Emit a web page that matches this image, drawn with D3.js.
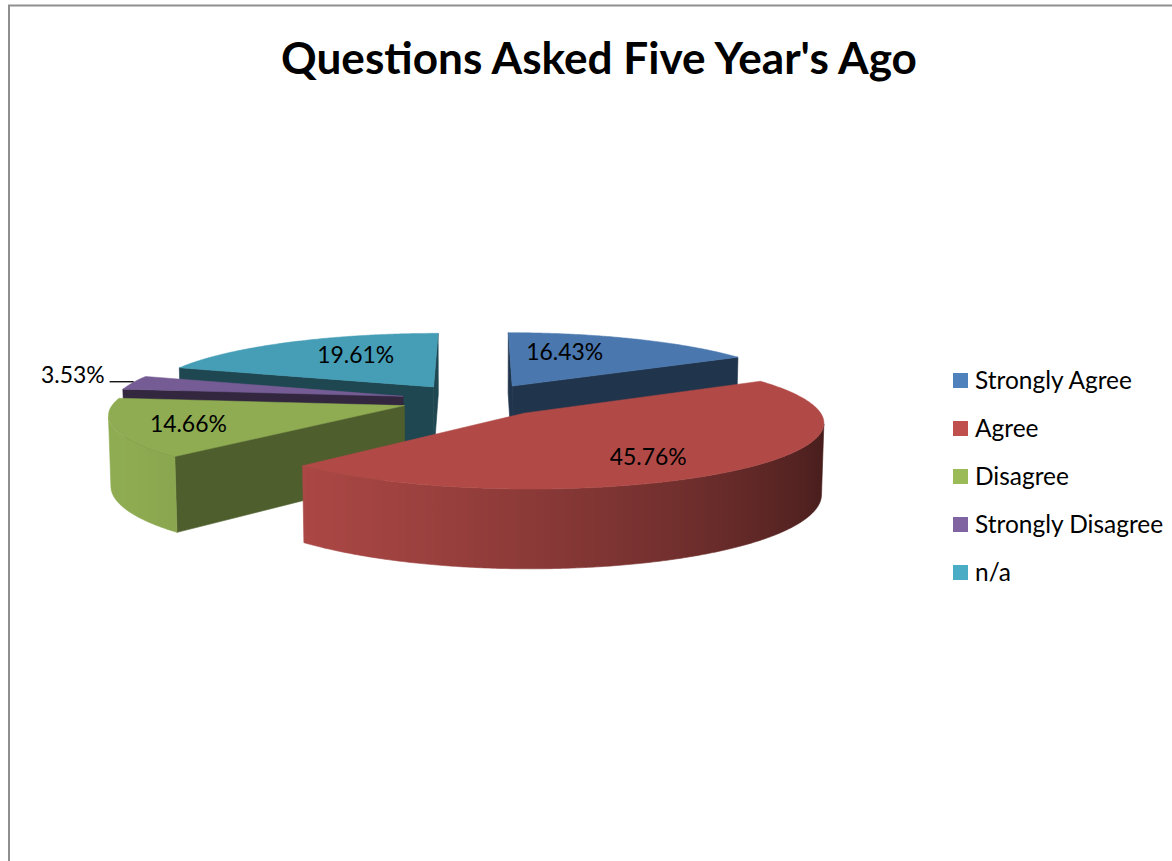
<!DOCTYPE html>
<html>
<head>
<meta charset="utf-8">
<script src="https://cdn.jsdelivr.net/npm/d3@7/dist/d3.min.js"></script>
<style>
  html, body { margin: 0; padding: 0; background: #ffffff; }
  svg { display: block; }
  text { font-family: Lato, "Open Sans", "DejaVu Sans", sans-serif; fill: #000; }
</style>
</head>
<body>
<svg id="chart" width="1172" height="861"></svg>
<script>
// ---------------- data ----------------
const title = "Questions Asked Five Year's Ago";
const categories = ["Strongly Agree", "Agree", "Disagree", "Strongly Disagree", "n/a"];
const values = [16.43, 45.76, 14.66, 3.53, 19.61];
const colors = ["#4F81BD", "#C0504D", "#9BBB59", "#8064A2", "#4BACC6"];

// ---------------- layout / style ----------------
const view = { cx: 476, cy: 400, f: 2315, D: 8, tilt: 12.6 * Math.PI / 180, explode: 0.26, depth: 0.245 };
const cutShade = [0.40, 0.40, 0.50, 0.39, 0.41];
const labelPlace = [ {da: -11, r: 0.66}, {da: 6, r: 0.70}, {da: -0.7, r: 0.754}, null, {da: 7.5, r: 0.655} ];
const outsideLabel = { index: 3, angle: 280, leader: 24, gap: 5 };

const svg = d3.select("#chart");
const defs = svg.append("defs");

// frame border
svg.append("rect").attr("x", 9).attr("y", 5.5).attr("width", 1400).attr("height", 1000)
  .attr("fill", "none").attr("stroke", "#8f8f8f").attr("stroke-width", 2);

// ---------------- projection ----------------
const sinT = Math.sin(view.tilt), cosT = Math.cos(view.tilt);
function proj(u, y, v) {
  const Yp = y * cosT - v * sinT;
  const Zp = y * sinT + v * cosT;
  const s = view.f / (view.D - Zp);
  return [view.cx + u * s, view.cy - Yp * s];
}
const cam = { u: 0, y: view.D * sinT, v: view.D * cosT };
function facing(n, p) {
  return n[0] * (cam.u - p[0]) + n[1] * (cam.y - p[1]) + n[2] * (cam.v - p[2]) > 0;
}
function shadeColor(c, k) {
  const r = d3.rgb(c);
  return d3.rgb(r.r * k, r.g * k, r.b * k).formatHex();
}
function wallShade(theta) {
  const L = 250 * Math.PI / 180;
  return 0.62 + 0.30 * Math.cos(theta - L);
}

const arcs = d3.pie().sort(null).value(d => d).startAngle(0).endAngle(2 * Math.PI)(values);
const line = d3.line().curve(d3.curveLinearClosed);
const Hd = view.depth;

const slices = arcs.map((a, i) => {
  const mid = (a.startAngle + a.endAngle) / 2;
  const ou = view.explode * Math.sin(mid), ov = -view.explode * Math.cos(mid);
  const pt = (th, r, y) => [ou + r * Math.sin(th), y, ov - r * Math.cos(th)];
  return { a, i, mid, ou, ov, pt, depth: ov + 0.6 * (-Math.cos(mid)) };
});

const wallLayer = svg.append("g");
const topLayer = svg.append("g");
const labelLayer = svg.append("g");

// walls, back to front
slices.slice().sort((p, q) => p.depth - q.depth).forEach(sl => {
  const { a, i, pt } = sl;
  const base = colors[i];
  const g = wallLayer.append("g");
  // cut faces
  const faces = [
    { th: a.startAngle, n: [-Math.cos(a.startAngle), 0, -Math.sin(a.startAngle)] },
    { th: a.endAngle, n: [Math.cos(a.endAngle), 0, Math.sin(a.endAngle)] }
  ];
  faces.forEach(fc => {
    const c = pt(fc.th, 0.5, -Hd / 2);
    if (!facing(fc.n, c)) return;
    const poly = [pt(0, 0, 0), pt(fc.th, 1, 0), pt(fc.th, 1, -Hd), pt(0, 0, -Hd)].map(p => proj(...p));
    g.append("path").attr("d", line(poly)).attr("fill", shadeColor(base, cutShade[i]))
      .attr("stroke", shadeColor(base, cutShade[i])).attr("stroke-width", 0.6);
  });
  // outer wall
  const step = 0.5 * Math.PI / 180;
  const n = Math.max(2, Math.ceil((a.endAngle - a.startAngle) / step));
  const runs = []; let cur = null;
  for (let k = 0; k <= n; k++) {
    const th = a.startAngle + (a.endAngle - a.startAngle) * k / n;
    const vis = facing([Math.sin(th), 0, -Math.cos(th)], pt(th, 1, -Hd / 2));
    if (vis) { if (!cur) { cur = []; runs.push(cur); } cur.push(th); } else cur = null;
  }
  runs.forEach((run, r) => {
    if (run.length < 2) return;
    const topPts = run.map(th => proj(...pt(th, 1, 0)));
    const botPts = run.map(th => proj(...pt(th, 1, -Hd))).reverse();
    const xs = topPts.map(p => p[0]);
    const x0 = d3.min(xs), x1 = d3.max(xs);
    const id = `wall${i}_${r}`;
    const grad = defs.append("linearGradient").attr("id", id).attr("gradientUnits", "userSpaceOnUse")
      .attr("x1", x0).attr("x2", x1).attr("y1", 0).attr("y2", 0);
    const xScale = d3.scaleLinear().domain([x0, x1]).range([0, 1]);
    run.map((th, k) => ({ o: xScale(topPts[k][0]), c: shadeColor(base, wallShade(th)) }))
      .sort((p, q) => p.o - q.o)
      .forEach(s => grad.append("stop").attr("offset", s.o).attr("stop-color", s.c));
    g.append("path").attr("d", line(topPts.concat(botPts))).attr("fill", `url(#${id})`)
      .attr("stroke", `url(#${id})`).attr("stroke-width", 0.6);
  });
});

// top faces
slices.forEach(sl => {
  const { a, i, pt } = sl;
  const step = 0.5 * Math.PI / 180;
  const n = Math.max(2, Math.ceil((a.endAngle - a.startAngle) / step));
  const pts = [proj(...pt(0, 0, 0))];
  for (let k = 0; k <= n; k++) {
    const th = a.startAngle + (a.endAngle - a.startAngle) * k / n;
    pts.push(proj(...pt(th, 1, 0)));
  }
  const c = shadeColor(colors[i], 0.92);
  topLayer.append("path").attr("d", line(pts)).attr("fill", c).attr("stroke", c).attr("stroke-width", 0.5);
});

// ---------------- text helpers ----------------
function fitGroup(sel, refNode, targetW, baseSize) {
  const w = refNode.getComputedTextLength();
  const size = baseSize * targetW / w;
  sel.style("font-size", size + "px");
  return size;
}

// data labels
const fmt = d => d3.format(".2f")(d) + "%";
const inLabels = [];
slices.forEach(sl => {
  const { a, i, pt } = sl;
  const lp = labelPlace[i];
  if (!lp) return;
  const th = sl.mid + lp.da * Math.PI / 180;
  const p = proj(...pt(th, lp.r, 0));
  const t = labelLayer.append("text").attr("x", p[0]).attr("y", p[1])
    .attr("text-anchor", "middle").attr("dominant-baseline", "central")
    .style("font-size", "22px").text(fmt(values[i]));
  inLabels.push(t.node());
});
// outside label with leader
{
  const sl = slices[outsideLabel.index];
  const p = proj(...sl.pt(outsideLabel.angle * Math.PI / 180, 1, 0));
  const y = p[1] - 4;
  labelLayer.append("line").attr("x1", p[0] + 6).attr("x2", p[0] + 6 - outsideLabel.leader)
    .attr("y1", y).attr("y2", y).attr("stroke", "#000").attr("stroke-width", 1.3);
  const t = labelLayer.append("text").attr("x", p[0] + 6 - outsideLabel.leader - outsideLabel.gap)
    .attr("y", y + 1).attr("text-anchor", "end").style("font-size", "22px")
    .text(fmt(values[outsideLabel.index]));
  inLabels.push(t.node());
}
fitGroup(labelLayer.selectAll("text"), inLabels[0], 77, 22);

// title
const tt = svg.append("text").attr("x", 599).attr("y", 74).attr("text-anchor", "middle")
  .style("font-weight", "bold").style("font-size", "44px").text(title);
fitGroup(tt, tt.node(), 636, 44);

// legend
const legend = svg.append("g").attr("transform", "translate(953,373)");
const ly = d3.scaleBand().domain(categories).range([0, 240]);
const items = legend.selectAll("g").data(categories).join("g")
  .attr("transform", d => `translate(0,${ly(d)})`);
items.append("rect").attr("width", 15).attr("height", 15).attr("fill", (d, i) => colors[i]);
const ltext = items.append("text").attr("x", 22).attr("y", 16).style("font-size", "22px").text(d => d);
fitGroup(ltext, ltext.nodes()[0], 157, 22);
</script>
</body>
</html>
